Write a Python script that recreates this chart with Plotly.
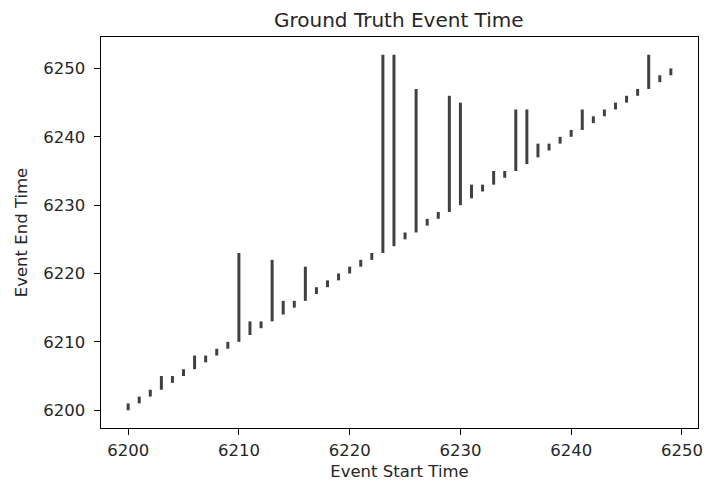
import plotly.graph_objects as go

# Event data: start time and end time for each ground-truth event
start_times = list(range(6200, 6250))
end_times = [
    6201, 6202, 6203, 6205, 6205, 6206, 6208, 6208, 6209, 6210,
    6223, 6213, 6213, 6222, 6216, 6216, 6221, 6218, 6219, 6220,
    6221, 6222, 6223, 6252, 6252, 6226, 6247, 6228, 6229, 6246,
    6245, 6233, 6233, 6235, 6235, 6244, 6244, 6239, 6239, 6240,
    6241, 6244, 6243, 6244, 6245, 6246, 6247, 6252, 6249, 6250,
]
tick_vals = [6200, 6210, 6220, 6230, 6240, 6250]

xs, ys = [], []
for s, e in zip(start_times, end_times):
    xs += [s, s, None]
    ys += [s, e, None]

fig = go.Figure()
fig.add_trace(go.Scatter(
    x=xs, y=ys, mode="lines",
    line=dict(color="#404040", width=3),
    showlegend=False, hoverinfo="skip",
))

font_family = "DejaVu Sans"
axis_common = dict(
    showline=True, linecolor="black", linewidth=1.1, mirror=True,
    ticks="outside", ticklen=5.5, tickwidth=1.1, tickcolor="black",
    showgrid=False, zeroline=False,
    tickfont=dict(family=font_family, size=16.5, color="#262626"),
    tickvals=tick_vals, ticklabeloverflow="allow",
)

fig.update_layout(
    width=707, height=487,
    margin=dict(l=101, r=4, t=37, b=59),
    plot_bgcolor="white", paper_bgcolor="white",
    title=dict(text="Ground Truth Event Time", x=0.564, xanchor="center",
               y=0.959, yanchor="middle",
               font=dict(family=font_family, size=20, color="#262626")),
    xaxis=dict(axis_common, range=[6197.55, 6251.45], ticklabelstandoff=2,
               title=dict(text="Event Start Time", standoff=6,
                          font=dict(family=font_family, size=16.5, color="#262626"))),
    yaxis=dict(axis_common, range=[6197.4, 6254.6], ticklabelstandoff=6,
               title=dict(text="Event End Time", standoff=11,
                          font=dict(family=font_family, size=16.5, color="#262626"))),
)

fig.write_html("out.html")
